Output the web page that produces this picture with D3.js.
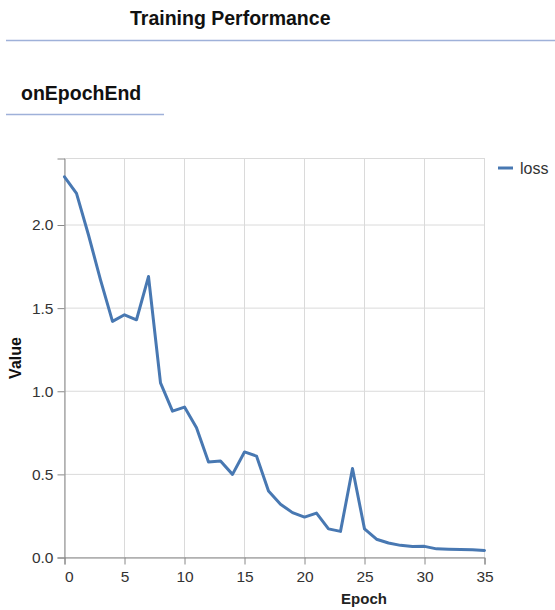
<!DOCTYPE html>
<html>
<head>
<meta charset="utf-8">
<script src="https://cdn.jsdelivr.net/npm/d3@7"></script>
<style>
  html, body { margin: 0; padding: 0; background: #fff; }
  svg { display: block; font-family: "Liberation Sans", Arial, sans-serif; }
</style>
</head>
<body>
<svg id="chart" width="555" height="610"></svg>
<script>
const pageTitle = "Training Performance";
const sectionTitle = "onEpochEnd";
const seriesName = "loss";
const xTitle = "Epoch";
const yTitle = "Value";
const epochs = [0,1,2,3,4,5,6,7,8,9,10,11,12,13,14,15,16,17,18,19,20,21,22,23,24,25,26,27,28,29,30,31,32,33,34,35];
const loss = [2.29,2.19,1.94,1.67,1.42,1.46,1.43,1.69,1.05,0.88,0.905,0.78,0.575,0.58,0.50,0.635,0.61,0.40,0.32,0.27,0.243,0.267,0.172,0.157,0.535,0.172,0.11,0.087,0.073,0.066,0.067,0.052,0.050,0.048,0.046,0.042];
const xTicks = [0,5,10,15,20,25,30,35];
const yTicks = [0,0.5,1.0,1.5,2.0];
const xDomain = [0, 35];
const yDomain = [0, 2.4];

const svg = d3.select("#chart");
const lineBlue = "#9fb1d9";

// Header
svg.append("text").attr("x", 130).attr("y", 25)
  .attr("font-size", 19.5).attr("font-weight", "bold").attr("fill", "#111")
  .text(pageTitle);
svg.append("line").attr("x1", 6).attr("x2", 555).attr("y1", 40.5).attr("y2", 40.5)
  .attr("stroke", lineBlue).attr("stroke-width", 1.5);
svg.append("text").attr("x", 21).attr("y", 100)
  .attr("font-size", 19.5).attr("font-weight", "bold").attr("fill", "#111")
  .text(sectionTitle);
svg.append("line").attr("x1", 6).attr("x2", 164).attr("y1", 114.5).attr("y2", 114.5)
  .attr("stroke", lineBlue).attr("stroke-width", 1.5);

// Scales
const x = d3.scaleLinear().domain(xDomain).range([64.5, 484.5]);
const y = d3.scaleLinear().domain(yDomain).range([557.5, 158.5]);

const g = svg.append("g");

// Grid
g.selectAll(".vgrid").data(xTicks).join("line")
  .attr("x1", d => x(d)).attr("x2", d => x(d))
  .attr("y1", y(yDomain[1])).attr("y2", y(0))
  .attr("stroke", "#dadada").attr("stroke-width", 1);
g.selectAll(".hgrid").data(yTicks).join("line")
  .attr("x1", x(0)).attr("x2", x(xDomain[1]))
  .attr("y1", d => y(d)).attr("y2", d => y(d))
  .attr("stroke", "#dadada").attr("stroke-width", 1);
// view border
g.append("rect").attr("x", x(0)).attr("y", y(yDomain[1]))
  .attr("width", x(xDomain[1]) - x(0)).attr("height", y(0) - y(yDomain[1]))
  .attr("fill", "none").attr("stroke", "#dadada");

// Axes
const xAxis = d3.axisBottom(x).tickValues(xTicks).tickSize(7).tickPadding(4).tickFormat(d3.format("d"));
const yAxis = d3.axisLeft(y).tickValues(yTicks).tickSize(7).tickPadding(4).tickFormat(d3.format(".1f"));

const gx = g.append("g").attr("transform", `translate(0,${y(0)})`).call(xAxis);
const gy = g.append("g").attr("transform", `translate(${x(0)},0)`).call(yAxis);
[gx, gy].forEach(a => {
  a.select(".domain").attr("stroke", "#888");
  a.selectAll(".tick line").attr("stroke", "#888");
  a.selectAll(".tick text").attr("fill", "#333").attr("font-size", 15.5)
    .attr("font-family", "\"Liberation Sans\", Arial, sans-serif");
});
gx.selectAll(".tick text").attr("dy", "0.9em");
gx.selectAll(".tick text").filter(d => d === xDomain[0]).attr("text-anchor", "start");

// Axis titles
svg.append("text").attr("transform", `translate(21,${(y(0) + y(yDomain[1])) / 2}) rotate(-90)`)
  .attr("text-anchor", "middle").attr("font-size", 16).attr("font-weight", "bold").attr("fill", "#111")
  .text(yTitle);
svg.append("text").attr("x", 364).attr("y", 604)
  .attr("text-anchor", "middle").attr("font-size", 15).attr("font-weight", "bold").attr("fill", "#222")
  .text(xTitle);

// Line
const line = d3.line().x((d, i) => x(epochs[i])).y(d => y(d));
g.append("path").datum(loss).attr("d", line)
  .attr("fill", "none").attr("stroke", "#4878b2").attr("stroke-width", 3)
  .attr("stroke-linejoin", "round").attr("stroke-linecap", "round");

// Legend
const lg = svg.append("g").attr("transform", "translate(498,168)");
lg.append("line").attr("x1", 0).attr("x2", 15).attr("y1", 0).attr("y2", 0)
  .attr("stroke", "#4878b2").attr("stroke-width", 3);
lg.append("text").attr("x", 22).attr("y", 5.5).attr("font-size", 16).attr("fill", "#333").text(seriesName);
</script>
</body>
</html>
